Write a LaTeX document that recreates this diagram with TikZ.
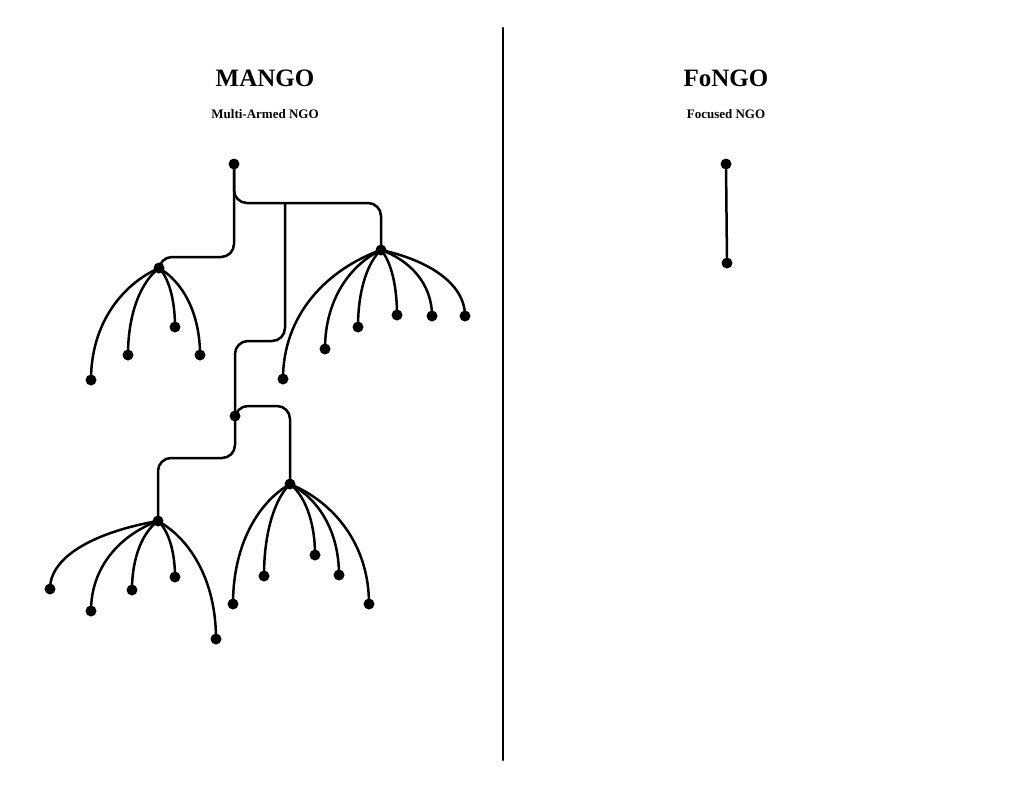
\documentclass[tikz,border=0pt]{standalone}
\usepackage{fontspec}
\setmainfont{Liberation Serif}
\usetikzlibrary{calc}
\begin{document}
\begin{tikzpicture}[x=1pt,y=-1pt,
  dot/.style={circle,fill=black,inner sep=0pt,minimum size=11pt},
  ln/.style={line width=2.5pt,line cap=round},
  br/.style={ln,rounded corners=13pt},
  title/.style={font=\bfseries\fontsize{25}{28}\selectfont},
  sub/.style={font=\bfseries\fontsize{13}{15}\selectfont}]
\useasboundingbox (0,0) rectangle (1024,801);
\node[title] (t1) at (265,78) {MANGO};
\node[sub] (s1) at (265,114) {Multi-Armed NGO};
\node[title] (t2) at (726,78) {FoNGO};
\node[sub] (s2) at (726,114) {Focused NGO};
\coordinate (d1) at (503,28); \coordinate (d2) at (503,760);
\draw[ln] (d1) -- (d2);
% hubs
\node[dot] (R) at (234,164) {};
\node[dot] (A) at (381,250) {};
\node[dot] (B) at (159,268) {};
\node[dot] (C) at (235,416) {};
\node[dot] (D) at (290,484) {};
\node[dot] (E) at (158,521) {};
\draw[br] (R.center) -- (234,203) -- (381,203) -- (A.center);
\draw[br] (R.center) -- (234,257) -- (159,257) -- (B.center);
\draw[br] (285,203) -- (285,341) -- (235,341) -- (C.center);
\draw[br] (C.center) -- (235,406) -- (290,406) -- (D.center);
\draw[br] (C.center) -- (235,458) -- (158,458) -- (E.center);
\newcommand{\leaves}[2]{%
  \foreach \x/\y [count=\i] in {#2} {
    \node[dot] (#1\i) at (\x,\y) {};
    \draw[ln] let \p1=(#1.center), \p2=(#1\i.center) in
      (\p1) .. controls ({\x1+0.55*(\x2-\x1)},{\y1+0.15*(\y2-\y1)}) and ({\x2},{\y1+0.5*(\y2-\y1)}) .. (\p2);
  }}
\leaves{B}{91/380,128/355,175/327,200/355}
\leaves{A}{283/379,325/349,358/327,397/315,432/316,465/316}
\leaves{D}{233/604,264/576,315/555,339/575,369/604}
\leaves{E}{50/589,91/611,132/590,175/577,216/639}
\node[dot] (F1) at (726,164) {};
\node[dot] (F2) at (727,263) {};
\draw[ln] (F1) -- (F2);
\end{tikzpicture}
\end{document}
